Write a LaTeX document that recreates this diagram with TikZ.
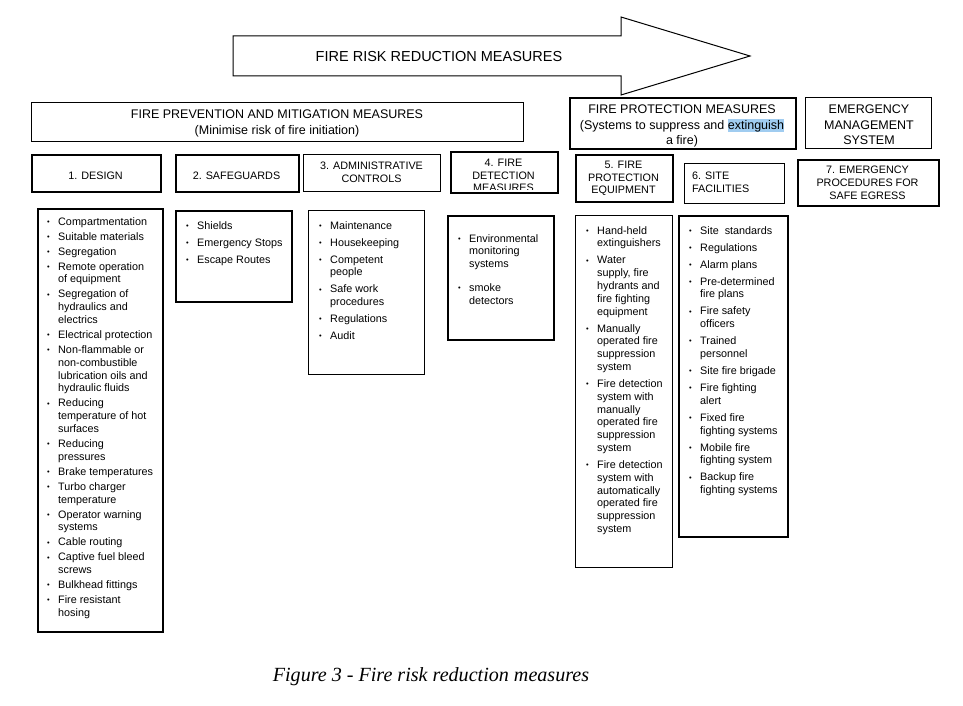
\documentclass[tikz,border=0pt]{standalone}
\usepackage{fontspec}
\setmainfont{Liberation Sans}
\newfontfamily\capfont{Liberation Serif}
\definecolor{hl}{RGB}{160,204,240}
\newcommand\bul{\makebox[11pt][l]{\strut\raisebox{0.9pt}{\fontsize{7.5}{7.5}\selectfont\char"2022}}}
\newcommand\cnt{\hspace*{11pt}}
\newcommand\hlw[1]{{\setlength\fboxsep{0pt}\colorbox{hl}{\rule[-2.5pt]{0pt}{12.5pt}#1}}}
\tikzset{
  thinbox/.style={draw, line width=1pt, inner sep=0pt, anchor=north west},
  thickbox/.style={draw, line width=1.6pt, inner sep=0pt, anchor=north west},
  hdr/.style={font=\fontsize{12.5}{15.5}\selectfont, align=center, inner sep=0pt},
  lbl/.style={font=\fontsize{10.8}{12.8}\selectfont, align=center, inner sep=0pt},
  lst/.style={font=\fontsize{10.8}{12.8}\selectfont, align=left, inner sep=0pt, anchor=north west},
}
\begin{document}
\begin{tikzpicture}[x=1pt,y=-1pt]
\fill[white] (0,0) rectangle (963,706);
\useasboundingbox (0,0) rectangle (963,706);
% big arrow
\draw[line width=1pt, line join=miter] (233,36) -- (621,36) -- (621,17) -- (750,56) -- (621,95) -- (621,76) -- (233,76) -- cycle;
\node[font=\fontsize{14.5}{17}\selectfont] (arrowtxt) at (439,57) {FIRE RISK REDUCTION MEASURES};
% headers
\node[thinbox, line width=1.2pt, minimum width=492pt, minimum height=39pt] (h1) at (31,102) {};
\node[hdr] (h1t) at (277,123.5) {FIRE PREVENTION AND MITIGATION MEASURES\\(Minimise risk of fire initiation)};
\node[thickbox, minimum width=226pt, minimum height=51pt] (h2) at (569,97) {};
\node[hdr] (h2t) at (682,126) {FIRE PROTECTION MEASURES\\(Systems to suppress and \hlw{extinguish}\\a fire)};
\node[thinbox, minimum width=126pt, minimum height=51pt] (h3) at (805,97) {};
\node[hdr] (h3t) at (869,125) {EMERGENCY\\MANAGEMENT\\SYSTEM};
% category boxes
\node[thickbox, minimum width=129pt, minimum height=37pt] (b1) at (31,154) {};
\node[lbl] (b1t) at (95.5,176) {1. DESIGN};
\node[thickbox, minimum width=123pt, minimum height=37pt] (b2) at (175,154) {};
\node[lbl] (b2t) at (236.5,176) {2. SAFEGUARDS};
\node[thinbox, minimum width=137pt, minimum height=37pt] (b3) at (303,154) {};
\node[lbl] (b3t) at (371.5,172) {3. ADMINISTRATIVE\\CONTROLS};
\node[thickbox, minimum width=107pt, minimum height=41pt] (b4) at (450,151) {};
\begin{scope}
\clip (450,151) rectangle (557,189.3);
\node[lbl] (b4t) at (503.5,175.5) {4. FIRE\\DETECTION\\MEASURES};
\end{scope}
\node[thickbox, minimum width=97pt, minimum height=47pt] (b5) at (575,154) {};
\node[lbl] (b5t) at (623.5,178.5) {5. FIRE\\PROTECTION\\EQUIPMENT};
\node[thickbox, line width=1.3pt, minimum width=100pt, minimum height=40pt] (b6) at (684,163) {};
\node[lbl, align=left, anchor=west] (b6t) at (692,182.5) {6. SITE\\FACILITIES};
\node[thickbox, minimum width=141pt, minimum height=46pt] (b7) at (797,159) {};
\node[lbl] (b7t) at (867.5,183) {7. EMERGENCY\\PROCEDURES FOR\\SAFE EGRESS};
% list boxes
\node[thickbox, minimum width=125pt, minimum height=423pt] (l1) at (37,208) {};
\node[lst] (l1t) at (47,216) {\bul Compartmentation\\[2.2pt]\bul Suitable materials\\[2.2pt]\bul Segregation\\[2.2pt]\bul Remote operation\\\cnt of equipment\\[2.2pt]\bul Segregation of\\\cnt hydraulics and\\\cnt electrics\\[2.2pt]\bul Electrical protection\\[2.2pt]\bul Non-flammable or\\\cnt non-combustible\\\cnt lubrication oils and\\\cnt hydraulic fluids\\[2.2pt]\bul Reducing\\\cnt temperature of hot\\\cnt surfaces\\[2.2pt]\bul Reducing\\\cnt pressures\\[2.2pt]\bul Brake temperatures\\[2.2pt]\bul Turbo charger\\\cnt temperature\\[2.2pt]\bul Operator warning\\\cnt systems\\[2.2pt]\bul Cable routing\\[2.2pt]\bul Captive fuel bleed\\\cnt screws\\[2.2pt]\bul Bulkhead fittings\\[2.2pt]\bul Fire resistant\\\cnt hosing};
\node[thickbox, minimum width=116pt, minimum height=91pt] (l2) at (175,210) {};
\node[lst] (l2t) at (186,220) {\bul Shields\\[4.2pt]\bul Emergency Stops\\[4.2pt]\bul Escape Routes};
\node[thinbox, minimum width=116pt, minimum height=164pt] (l3) at (308,210) {};
\node[lst] (l3t) at (319,220) {\bul Maintenance\\[4.2pt]\bul Housekeeping\\[4.2pt]\bul Competent\\\cnt people\\[4.2pt]\bul Safe work\\\cnt procedures\\[4.2pt]\bul Regulations\\[4.2pt]\bul Audit};
\node[thickbox, minimum width=106pt, minimum height=124pt] (l4) at (447,215) {};
\node[lst] (l4t) at (458,233) {\bul Environmental\\\cnt monitoring\\\cnt systems\\[11.2pt]\bul smoke\\\cnt detectors};
\node[thinbox, minimum width=97pt, minimum height=352pt] (l5) at (575,215) {};
\node[lst] (l5t) at (586,225) {\bul Hand-held\\\cnt extinguishers\\[4.2pt]\bul Water\\\cnt supply, fire\\\cnt hydrants and\\\cnt fire fighting\\\cnt equipment\\[4.2pt]\bul Manually\\\cnt operated fire\\\cnt suppression\\\cnt system\\[4.2pt]\bul Fire detection\\\cnt system with\\\cnt manually\\\cnt operated fire\\\cnt suppression\\\cnt system\\[4.2pt]\bul Fire detection\\\cnt system with\\\cnt automatically\\\cnt operated fire\\\cnt suppression\\\cnt system};
\node[thickbox, minimum width=109pt, minimum height=321pt] (l6) at (678,215) {};
\node[lst] (l6t) at (689,225) {\bul Site\ \ standards\\[4.2pt]\bul Regulations\\[4.2pt]\bul Alarm plans\\[4.2pt]\bul Pre-determined\\\cnt fire plans\\[4.2pt]\bul Fire safety\\\cnt officers\\[4.2pt]\bul Trained\\\cnt personnel\\[4.2pt]\bul Site fire brigade\\[4.2pt]\bul Fire fighting\\\cnt alert\\[4.2pt]\bul Fixed fire\\\cnt fighting systems\\[4.2pt]\bul Mobile fire\\\cnt fighting system\\[4.2pt]\bul Backup fire\\\cnt fighting systems};
% caption
\node[font=\capfont\itshape\fontsize{20.1}{23}\selectfont] (cap) at (431,677) {Figure 3 - Fire risk reduction measures};
\end{tikzpicture}
\end{document}
